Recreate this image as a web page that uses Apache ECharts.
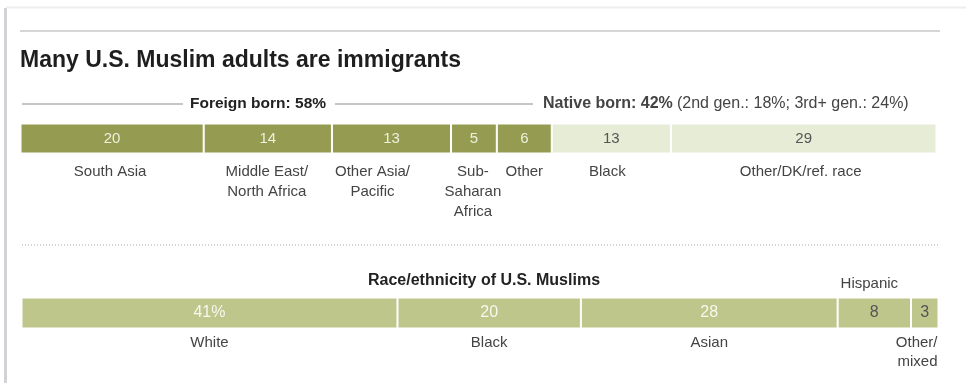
<!DOCTYPE html>
<html>
<head>
<meta charset="utf-8">
<script src="https://cdn.jsdelivr.net/npm/echarts@6/dist/echarts.min.js"></script>
<style>
  html, body { margin: 0; padding: 0; background: #fff; }
  #chart { width: 966px; height: 383px; }
</style>
</head>
<body>
<div id="chart"></div>
<script>
// Where U.S. Muslim adults were born / their family origin (percent)
const originValues = [20, 14, 13, 5, 6, 13, 29];
const originNames = ['South Asia', 'Middle East/\nNorth Africa', 'Other Asia/\nPacific',
  'Sub-\nSaharan\nAfrica', 'Other', 'Black', 'Other/DK/ref. race'];
const originGroups = ['foreign', 'foreign', 'foreign', 'foreign', 'foreign', 'native', 'native'];

// Race/ethnicity of U.S. Muslims (percent)
const raceValues = [41, 20, 28, 8, 3];
const raceValueLabels = ['41%', '20', '28', '8', '3'];
const raceNames = ['White', 'Black', 'Asian', 'Hispanic', 'Other/\nmixed'];

// Headline shares
const foreignBorn = 58;
const nativeBorn = 42;
const secondGen = 18;
const thirdGen = 24;

// ---- styling / layout ----
const FONT = '"Liberation Sans", Arial, sans-serif';
const DARK_OLIVE = '#959c51';
const PALE_OLIVE = '#e6ecd5';
const MID_OLIVE = '#bfc68b';
const TEXT = '#444';
// small horizontal nudges for name labels that do not sit at their segment centre
const originNameShift = [-2, -1, -19, -1, 0, -4, -3];
const raceLabelDark = [false, false, false, true, true];

const chart = echarts.init(document.getElementById('chart'), null, { renderer: 'canvas' });

function stackSeries(values, stack, axisIdx, colorOf, labelOf, labelColorOf, fontSize) {
  return values.map((v, i) => ({
    type: 'bar',
    stack: stack,
    xAxisIndex: axisIdx,
    yAxisIndex: axisIdx,
    data: [v],
    barWidth: '100%',
    silent: true,
    itemStyle: { color: colorOf(i), borderColor: '#fff', borderWidth: 1 },
    label: {
      show: true,
      position: 'inside',
      formatter: labelOf(i),
      color: labelColorOf(i),
      fontFamily: FONT,
      fontSize: fontSize
    }
  }));
}

const series = [].concat(
  stackSeries(originValues, 'origin', 0,
    i => originGroups[i] === 'foreign' ? DARK_OLIVE : PALE_OLIVE,
    i => String(originValues[i]),
    i => originGroups[i] === 'foreign' ? '#eef0dd' : '#555',
    15),
  stackSeries(raceValues, 'race', 1,
    () => MID_OLIVE,
    i => raceValueLabels[i],
    i => raceLabelDark[i] ? '#555' : '#f7f8ee',
    16)
);

chart.setOption({
  animation: false,
  grid: [
    { left: 20.5, right: 29.5, top: 123.5, height: 30 },
    { left: 21.5, right: 27.5, top: 297.5, height: 31 }
  ],
  xAxis: [
    { gridIndex: 0, type: 'value', min: 0, max: 100, show: false },
    { gridIndex: 1, type: 'value', min: 0, max: 100, show: false }
  ],
  yAxis: [
    { gridIndex: 0, type: 'category', data: ['origin'], show: false },
    { gridIndex: 1, type: 'category', data: ['race'], show: false }
  ],
  series: series
});

// ---- text and rules placed from the axes ----
const graphics = [];
const textStyle = (extra) => Object.assign({ fontFamily: FONT, fontSize: 15, fill: TEXT }, extra);

// card frame
graphics.push({ type: 'rect', shape: { x: 4, y: 8, width: 3, height: 380 }, style: { fill: '#d2d2d6' }, silent: true });
graphics.push({ type: 'line', shape: { x1: 6, y1: 7.5, x2: 966, y2: 7.5 }, style: { stroke: '#eeeeee', lineWidth: 2 }, silent: true });
// top rule
graphics.push({ type: 'line', shape: { x1: 20, y1: 31, x2: 940, y2: 31 }, style: { stroke: '#c9c9c9', lineWidth: 1.5 }, silent: true });
// title
graphics.push({ type: 'text', x: 20, y: 49, style: textStyle({
  text: 'Many U.S. Muslim adults are immigrants', fontSize: 23, fontWeight: 'bold', fill: '#1e1e1e',
  verticalAlign: 'top' }) });

// foreign / native header
const headY = 104;
graphics.push({ type: 'line', shape: { x1: 22, y1: headY, x2: 183, y2: headY }, style: { stroke: '#8c8c8c', lineWidth: 1 }, silent: true });
graphics.push({ type: 'text', x: 258, y: headY, style: textStyle({
  text: 'Foreign born: ' + foreignBorn + '%', fontSize: 15.5, fontWeight: 'bold', fill: '#222',
  align: 'center', verticalAlign: 'middle' }) });
graphics.push({ type: 'line', shape: { x1: 335, y1: headY, x2: 533, y2: headY }, style: { stroke: '#8c8c8c', lineWidth: 1 }, silent: true });
graphics.push({ type: 'text', x: 543, y: headY, style: textStyle({
  text: '{b|Native born: ' + nativeBorn + '%} {r|(2nd gen.: ' + secondGen + '%; 3rd+ gen.: ' + thirdGen + '%)}',
  verticalAlign: 'middle',
  rich: {
    b: { fontFamily: FONT, fontSize: 16, fontWeight: 'bold', color: '#222' },
    r: { fontFamily: FONT, fontSize: 16, color: '#444' }
  } }) });

// origin names under the bar
let acc = 0;
originValues.forEach((v, i) => {
  const mid = acc + v / 2;
  acc += v;
  const p = chart.convertToPixel({ gridIndex: 0 }, [mid, 0]);
  graphics.push({ type: 'text', x: p[0] + originNameShift[i], y: 162, style: textStyle({
    text: originNames[i], align: 'center', verticalAlign: 'top', lineHeight: 20 }) });
});

// dotted divider
graphics.push({ type: 'line', shape: { x1: 22, y1: 245, x2: 940, y2: 245 }, style: { stroke: '#a8a8a8', lineWidth: 1, lineDash: [1, 2] }, silent: true });

// race subtitle
graphics.push({ type: 'text', x: 484, y: 281, style: textStyle({
  text: 'Race/ethnicity of U.S. Muslims', fontSize: 16, fontWeight: 'bold', fill: '#222',
  align: 'center', verticalAlign: 'middle' }) });

// race names
acc = 0;
raceValues.forEach((v, i) => {
  const mid = acc + v / 2;
  acc += v;
  const p = chart.convertToPixel({ gridIndex: 1 }, [mid, 0]);
  if (raceNames[i] === 'Hispanic') {
    graphics.push({ type: 'text', x: p[0] - 5, y: 274, style: textStyle({
      text: raceNames[i], align: 'center', verticalAlign: 'top', lineHeight: 20 }) });
  } else if (i === raceValues.length - 1) {
    const end = chart.convertToPixel({ gridIndex: 1 }, [acc, 0]);
    graphics.push({ type: 'text', x: end[0] - 1, y: 333, style: textStyle({
      text: raceNames[i], align: 'right', verticalAlign: 'top', lineHeight: 19 }) });
  } else {
    graphics.push({ type: 'text', x: p[0], y: 333, style: textStyle({
      text: raceNames[i], align: 'center', verticalAlign: 'top', lineHeight: 19 }) });
  }
});

chart.setOption({ graphic: graphics });
</script>
</body>
</html>
